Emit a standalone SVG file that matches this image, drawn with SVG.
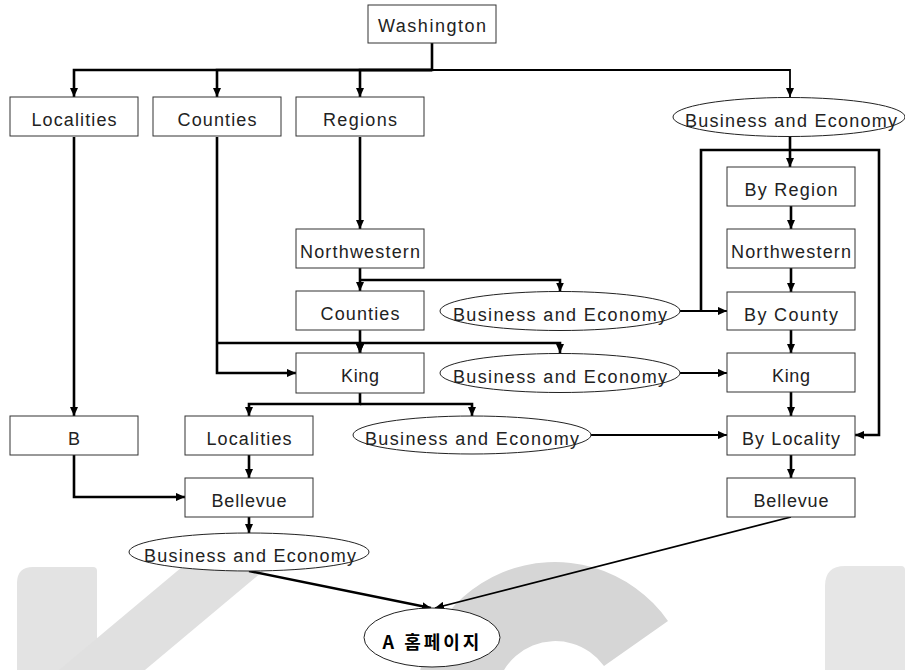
<svg xmlns="http://www.w3.org/2000/svg" width="905" height="670" viewBox="0 0 905 670">
<defs>
<marker id="ah" viewBox="0 0 10 9" refX="10" refY="4.5" markerWidth="9" markerHeight="8.5" markerUnits="userSpaceOnUse" orient="auto">
<path d="M0,0 L10,4.5 L0,9 Z" fill="#000"/>
</marker>
<style>
.bx{fill:#fff;stroke:#333;stroke-width:1}
.el{fill:#fff;stroke:#222;stroke-width:1}
.tx{font-family:"Liberation Sans",Arial,sans-serif;font-size:18px;fill:#222;text-anchor:middle}
.kr{font-family:"Noto Sans CJK KR","Liberation Sans",sans-serif;font-size:18px;font-weight:bold;fill:#000;text-anchor:middle;letter-spacing:3px}
.t{fill:none;stroke:#000;stroke-width:2.6;marker-end:url(#ah)}
.n{fill:none;stroke:#000;stroke-width:1.8;marker-end:url(#ah)}
</style>
</defs>
<rect width="905" height="670" fill="#fff"/>
<g id="watermark">
<path d="M17,670 V583 Q17,567 33,567 H93 Q97,567 97,571 V670 Z" fill="#e3e3e3"/>
<path d="M182,567 H268 L145,670 H59 Z" fill="#e0e0e0"/>
<path d="M419,724 A138,138 0 0 1 668,621 L604,666 A60,60 0 0 0 496,710 Z" fill="#d6d6d6"/>
<path d="M825,670 V586 Q825,566 845,566 H901 Q905,566 905,570 V670 Z" fill="#e6e6e6"/>
</g>
<g id="connectors">
<path class="t" d="M432,43 V70 H74 V97"/>
<path class="t" d="M432,70 H217 V97"/>
<path class="t" d="M432,70 H360 V97"/>
<path class="n" d="M432,70 H790 V97"/>
<path class="t" d="M74,137 V416"/>
<path class="t" d="M217,137 V373 H296"/>
<path class="t" d="M217,343 H360 V353"/>
<path class="t" d="M360,343 H560 V353"/>
<path class="t" d="M360,330 V353"/>
<path class="t" d="M360,137 V229"/>
<path class="t" d="M360,268 V291"/>
<path class="t" d="M360,280 H560 V291.5"/>
<path class="n" d="M680,311 H727"/>
<path class="t" d="M701,311 V150 H879 V435 H855"/>
<path class="t" d="M790,136.5 V167"/>
<path class="t" d="M791,206 V229"/>
<path class="t" d="M791,268 V292"/>
<path class="t" d="M791,330 V353"/>
<path class="t" d="M791,392 V416"/>
<path class="t" d="M791,455 V478"/>
<path class="n" d="M680,373 H727"/>
<path class="t" d="M360,393 V404 H249 V416"/>
<path class="t" d="M360,404 H472 V416"/>
<path class="n" d="M591,435 H727"/>
<path class="t" d="M74,455 V497 H185"/>
<path class="t" d="M249,455 V478"/>
<path class="t" d="M249,517 V533"/>
<path class="t" d="M249,571 L431,608"/>
<path class="n" d="M791,517 L435,608"/>
</g>
<g id="washington"><rect class="bx" x="368" y="5" width="128" height="38"/><text class="tx" x="432" y="32" textLength="108">Washington</text></g>
<g id="localities"><rect class="bx" x="10" y="97" width="128" height="39"/><text class="tx" x="74" y="126" textLength="85">Localities</text></g>
<g id="counties"><rect class="bx" x="153" y="97" width="128" height="39"/><text class="tx" x="217" y="126" textLength="79">Counties</text></g>
<g id="regions"><rect class="bx" x="296" y="97" width="128" height="39"/><text class="tx" x="360" y="126" textLength="74">Regions</text></g>
<g id="be-top"><ellipse class="el" cx="789" cy="117" rx="116" ry="19.5"/><text class="tx" x="791" y="126.5" textLength="212">Business and Economy</text></g>
<g id="by-region"><rect class="bx" x="727" y="167" width="128" height="39"/><text class="tx" x="791" y="196" textLength="93">By Region</text></g>
<g id="northwestern-r"><rect class="bx" x="727" y="229" width="128" height="39"/><text class="tx" x="791" y="258" textLength="120">Northwestern</text></g>
<g id="by-county"><rect class="bx" x="727" y="292" width="128" height="38"/><text class="tx" x="791" y="320.5" textLength="94">By County</text></g>
<g id="king-r"><rect class="bx" x="727" y="353" width="128" height="39"/><text class="tx" x="791" y="382" textLength="38">King</text></g>
<g id="by-locality"><rect class="bx" x="727" y="416" width="128" height="39"/><text class="tx" x="791" y="445" textLength="98">By Locality</text></g>
<g id="bellevue-r"><rect class="bx" x="727" y="478" width="128" height="39"/><text class="tx" x="791" y="507" textLength="75">Bellevue</text></g>
<g id="northwestern-m"><rect class="bx" x="296" y="229" width="128" height="39"/><text class="tx" x="360" y="258" textLength="120">Northwestern</text></g>
<g id="counties-m"><rect class="bx" x="296" y="291" width="128" height="39"/><text class="tx" x="360" y="320" textLength="79">Counties</text></g>
<g id="be-counties"><ellipse class="el" cx="560" cy="311" rx="120" ry="19.5"/><text class="tx" x="560" y="320.5" textLength="214">Business and Economy</text></g>
<g id="king-m"><rect class="bx" x="296" y="353" width="128" height="40"/><text class="tx" x="360" y="382" textLength="38">King</text></g>
<g id="be-king"><ellipse class="el" cx="560" cy="373" rx="120" ry="19.5"/><text class="tx" x="560" y="382.5" textLength="214">Business and Economy</text></g>
<g id="b"><rect class="bx" x="10" y="416" width="128" height="39"/><text class="tx" x="74" y="445">B</text></g>
<g id="localities-m"><rect class="bx" x="185" y="416" width="128" height="39"/><text class="tx" x="249" y="445" textLength="85">Localities</text></g>
<g id="be-localities"><ellipse class="el" cx="472" cy="435" rx="119" ry="19"/><text class="tx" x="472" y="444.5" textLength="214">Business and Economy</text></g>
<g id="bellevue-m"><rect class="bx" x="185" y="478" width="128" height="39"/><text class="tx" x="249" y="507" textLength="75">Bellevue</text></g>
<g id="be-bottom"><ellipse class="el" cx="249" cy="552" rx="120" ry="19"/><text class="tx" x="250" y="561.5" textLength="212">Business and Economy</text></g>
<g id="a-homepage"><ellipse class="el" cx="432" cy="637.5" rx="68" ry="29.5"/><text class="kr" x="432.5" y="649">A 홈페이지</text></g>
</svg>
